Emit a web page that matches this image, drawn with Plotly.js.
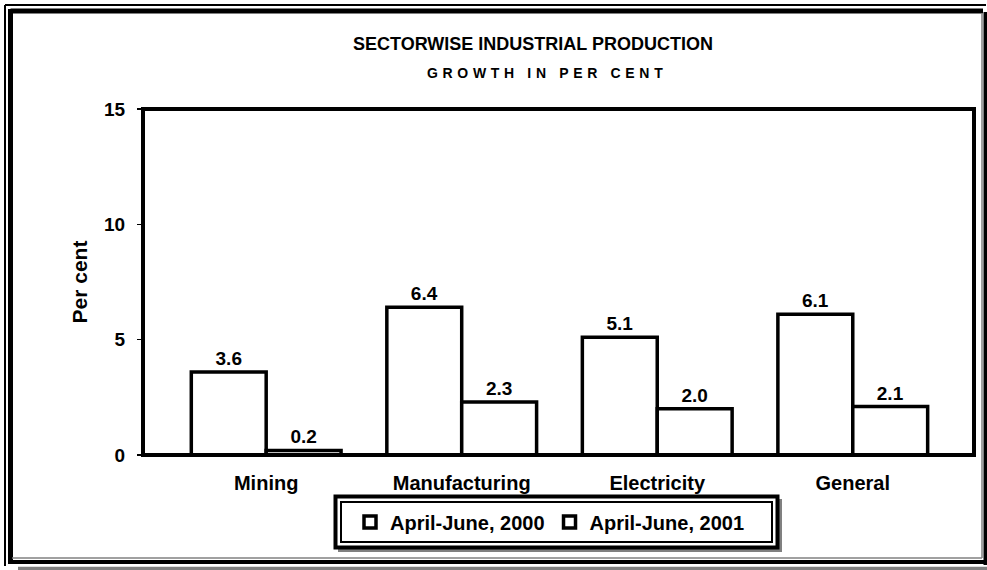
<!DOCTYPE html>
<html>
<head>
<meta charset="utf-8">
<script src="https://cdn.plot.ly/plotly-3.0.1.min.js"></script>
<style>
  html, body { margin: 0; padding: 0; background: #fff; }
  #chart { width: 987px; height: 570px; }
</style>
</head>
<body>
<div id="chart"></div>
<script>
// ---- data ----
const categories = ['Mining', 'Manufacturing', 'Electricity', 'General'];
const seriesNames = ['April-June, 2000', 'April-June, 2001'];
const values2000 = [3.6, 6.4, 5.1, 6.1];
const values2001 = [0.2, 2.3, 2.0, 2.1];
const yTickVals = [0, 5, 10, 15];
const titleText = 'SECTORWISE INDUSTRIAL PRODUCTION';
const subtitleText = 'GROWTH IN PER CENT';
const yTitleText = 'Per cent';

// ---- layout geometry ----
const W = 987, H = 570;
const M = { l: 143, r: 13, t: 109, b: 115 };
const PW = W - M.l - M.r, PH = H - M.t - M.b;
const px2x = p => (p - M.l) / PW;
const px2y = p => (H - M.b - p) / PH;

const FONT = 'Liberation Sans, Arial, sans-serif';
const bold = (size) => ({ family: FONT, size: size, color: '#000', weight: 'bold' });

// letter-spaced subtitle (three-per-em spaces between letters)
function spaced(s) {
  return s.split(' ').map(w => w.split('').join('\u2004')).join('\u2004 \u2004');
}

function barTrace(name, vals) {
  return {
    type: 'bar',
    name: name,
    x: categories,
    y: vals,
    marker: { color: '#ffffff', line: { color: '#000000', width: 3.5 } },
    text: vals.map(v => v.toFixed(1)),
    textposition: 'outside',
    textfont: bold(19),
    cliponaxis: false,
    hoverinfo: 'skip'
  };
}

const data = [barTrace(seriesNames[0], values2000), barTrace(seriesNames[1], values2001)];

function line(x0, y0, x1, y1, color, width) {
  return { type: 'line', xref: 'paper', yref: 'paper',
    x0: px2x(x0), y0: px2y(y0), x1: px2x(x1), y1: px2y(y1),
    line: { color: color, width: width }, layer: 'below' };
}
function rect(x0, y0, x1, y1, fill, lineColor, width) {
  return { type: 'rect', xref: 'paper', yref: 'paper',
    x0: px2x(x0), y0: px2y(y1), x1: px2x(x1), y1: px2y(y0),
    fillcolor: fill, line: { color: lineColor, width: width }, layer: 'below' };
}

const shapes = [
  // outer chart frame
  line(5, 5, 986, 5, '#000', 2),
  line(5, 5, 5, 566, '#000', 2),
  line(10.5, 11, 983, 11, '#000', 5),
  line(10.5, 9, 10.5, 562, '#000', 5),
  line(982, 13, 982, 558, '#808080', 1.5),
  line(12, 558, 982, 558, '#808080', 1.5),
  line(985.5, 12, 985.5, 565, '#000', 4),
  line(8, 562, 987, 562, '#000', 4),
  line(18, 568.5, 987, 568.5, '#808080', 3.5),
  // legend box: shadow, outer thick frame, inner thin frame
  rect(338, 499, 782, 552, '#808080', '#808080', 0),
  rect(335.5, 496.5, 777.5, 547.5, '#ffffff', '#000', 4),
  rect(341, 502, 772, 542, 'rgba(0,0,0,0)', '#000', 2),
  // plot-area frame, centred on the plot edges
  { type: 'rect', xref: 'paper', yref: 'paper', x0: 0, x1: 1, y0: 0, y1: 1,
    line: { color: '#000', width: 4 }, fillcolor: 'rgba(0,0,0,0)', layer: 'above' }
];

const layout = {
  width: W, height: H,
  margin: M,
  paper_bgcolor: '#ffffff',
  plot_bgcolor: '#ffffff',
  showlegend: true,
  barmode: 'group',
  bargap: 0.234,
  bargroupgap: 0,
  title: {
    text: titleText,
    font: bold(18),
    xref: 'container', yref: 'container',
    x: 533 / W, xanchor: 'center',
    y: 1 - 44 / H, yanchor: 'middle'
  },
  annotations: [{
    text: spaced(subtitleText),
    xref: 'paper', yref: 'paper',
    x: px2x(545), y: px2y(73),
    xanchor: 'center', yanchor: 'middle',
    showarrow: false,
    font: bold(14)
  }],
  xaxis: {
    type: 'category',
    range: [-0.63, 3.62],
    showline: false,
    showgrid: false, zeroline: false,
    ticks: '',
    tickfont: bold(20),
    ticklabelstandoff: 14,
    fixedrange: true
  },
  yaxis: {
    range: [0, 15],
    tickvals: yTickVals,
    ticktext: yTickVals.map(String),
    showline: false,
    showgrid: false, zeroline: false,
    ticks: 'outside', ticklen: 5, tickwidth: 1.5, tickcolor: '#000',
    tickfont: bold(19),
    ticklabelstandoff: 8,
    title: { text: yTitleText, font: bold(21), standoff: 10 },
    fixedrange: true
  },
  legend: {
    orientation: 'h',
    x: px2x(550), xanchor: 'center',
    y: px2y(522), yanchor: 'middle',
    font: bold(20),
    bgcolor: 'rgba(0,0,0,0)',
    borderwidth: 0,
    traceorder: 'normal',
    itemclick: false, itemdoubleclick: false
  },
  shapes: shapes
};

Plotly.newPlot('chart', data, layout, { displayModeBar: false, staticPlot: true });
</script>
</body>
</html>
